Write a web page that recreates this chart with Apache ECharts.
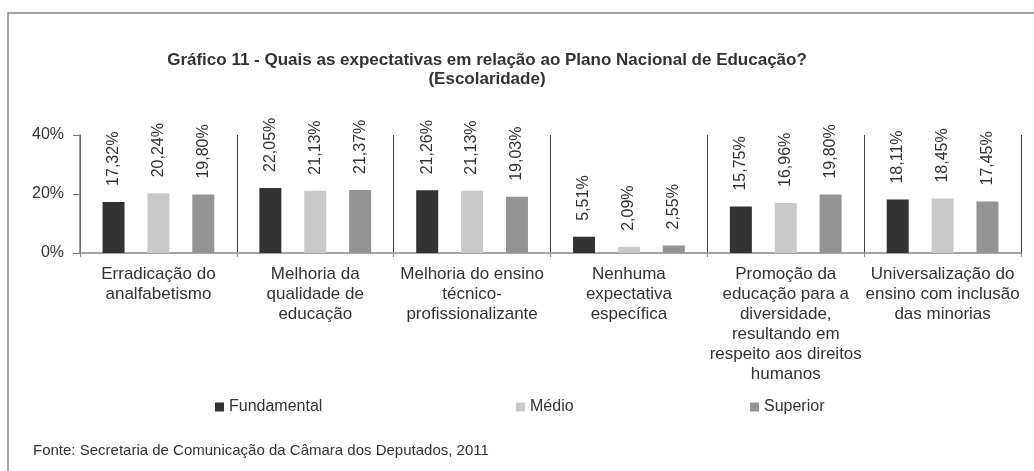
<!DOCTYPE html>
<html style='height: 100%'>
<head>
    <meta charset='utf-8'>
</head>
<body style='height: 100%; margin: 0; background: #fff'>
    <div id='container' style='width: 1034px; height: 471px'></div>
    <script type='text/javascript' src='https://cdn.jsdelivr.net/npm/echarts@6/dist/echarts.min.js'></script>
    <script type="text/javascript">

// categorias (eixo x)
var categorias = [
    'Erradicação do\nanalfabetismo',
    'Melhoria da\nqualidade de\neducação',
    'Melhoria do ensino\ntécnico-\nprofissionalizante',
    'Nenhuma\nexpectativa\nespecífica',
    'Promoção da\neducação para a\ndiversidade,\nresultando em\nrespeito aos direitos\nhumanos',
    'Universalização do\nensino com inclusão\ndas minorias'
];
var series = ['Fundamental', 'Médio', 'Superior'];
var fundamental = [17.32, 22.05, 21.26, 5.51, 15.75, 18.11];
var medio = [20.24, 21.13, 21.13, 2.09, 16.96, 18.45];
var superior = [19.80, 21.37, 19.03, 2.55, 19.80, 17.45];
var yTicks = [0, 20, 40];

var cores = ['#333333', '#c8c9cb', '#939496'];
var fonte = 'Liberation Sans, Arial, sans-serif';

var dom = document.getElementById("container");
var myChart = echarts.init(dom);

function rotulo(p) {
    return p.value.toFixed(2).replace('.', ',') + '%';
}

function serie(nome, dados, i) {
    return {
        name: nome,
        type: 'bar',
        data: dados,
        barWidth: 22,
        barGap: '104%',
        itemStyle: { color: cores[i] },
        label: {
            show: true,
            position: 'top',
            rotate: 90,
            align: 'left',
            verticalAlign: 'middle',
            distance: 16,
            formatter: rotulo,
            fontSize: 16,
            fontFamily: fonte,
            color: '#333'
        }
    };
}

function legenda(nome, x) {
    return {
        data: [nome],
        left: x,
        top: 399,
        padding: 0,
        icon: 'rect',
        itemWidth: 9,
        itemHeight: 9,
        textStyle: { fontSize: 16, fontFamily: fonte, color: '#333' }
    };
}

option = {
    animation: false,
    backgroundColor: '#fff',
    textStyle: { fontFamily: fonte },
    grid: { left: 80, right: 13, top: 135, bottom: 218 },
    legend: [legenda(series[0], 215), legenda(series[1], 516), legenda(series[2], 750)],
    xAxis: {
        type: 'category',
        data: categorias,
        axisLine: { lineStyle: { color: '#888', width: 1.5 } },
        axisTick: { show: true, length: 4, lineStyle: { color: '#888' } },
        splitLine: { show: true, lineStyle: { color: '#444', width: 1 } },
        axisLabel: {
            interval: 0,
            margin: 11,
            fontSize: 17,
            lineHeight: 20,
            color: '#333',
            fontFamily: fonte
        }
    },
    yAxis: {
        type: 'value',
        min: yTicks[0],
        max: yTicks[yTicks.length - 1],
        interval: 20,
        axisLine: { show: true, lineStyle: { color: '#777', width: 1.5 } },
        axisTick: { show: true, length: 7, lineStyle: { color: '#777' } },
        splitLine: { show: false },
        axisLabel: {
            formatter: '{value}%',
            margin: 16,
            fontSize: 16,
            color: '#333',
            fontFamily: fonte
        }
    },
    graphic: [
        {
            type: 'rect',
            shape: { x: 8, y: 13, width: 1100, height: 600 },
            style: { fill: 'none', stroke: '#888', lineWidth: 1.5 },
            silent: true
        },
        {
            type: 'text',
            x: 487,
            y: 51,
            style: {
                text: 'Gráfico 11 - Quais as expectativas em relação ao Plano Nacional de Educação?\n(Escolaridade)',
                align: 'center',
                verticalAlign: 'top',
                fontSize: 17,
                fontWeight: 'bold',
                lineHeight: 19,
                fontFamily: fonte,
                fill: '#333'
            }
        },
        {
            type: 'text',
            x: 33,
            y: 451,
            style: {
                text: 'Fonte: Secretaria de Comunicação da Câmara dos Deputados, 2011',
                verticalAlign: 'middle',
                fontSize: 15,
                fontFamily: fonte,
                fill: '#333'
            }
        }
    ],
    series: [
        serie(series[0], fundamental, 0),
        serie(series[1], medio, 1),
        serie(series[2], superior, 2)
    ]
};

if (option && typeof option === "object") {
    myChart.setOption(option, true);
}
    </script>
</body>
</html>
